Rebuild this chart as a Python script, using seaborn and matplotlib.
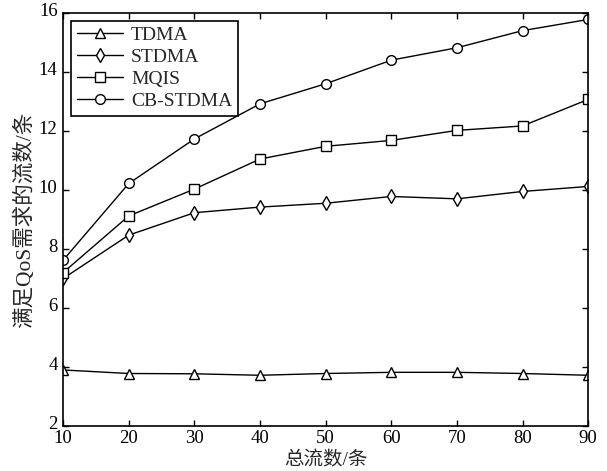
import pandas as pd
import matplotlib
matplotlib.use("Agg")
import matplotlib.pyplot as plt
import matplotlib.transforms as mtransforms
import seaborn as sns

# data
flows = [10, 20, 30, 40, 50, 60, 70, 80, 90]
tdma = [3.9, 3.78, 3.77, 3.72, 3.78, 3.82, 3.82, 3.78, 3.72]
stdma = [7.0, 8.47, 9.23, 9.42, 9.55, 9.78, 9.7, 9.95, 10.12]
mqis = [7.2, 9.12, 10.03, 11.05, 11.48, 11.68, 12.02, 12.17, 13.07]
cb_stdma = [7.62, 10.22, 11.73, 12.92, 13.6, 14.4, 14.82, 15.4, 15.78]

series = {"TDMA": tdma, "STDMA": stdma, "MQIS": mqis, "CB-STDMA": cb_stdma}
markers = {"TDMA": "^", "STDMA": "d", "MQIS": "s", "CB-STDMA": "o"}

df = pd.concat(
    [pd.DataFrame({"flows": flows, "value": v, "method": k}) for k, v in series.items()],
    ignore_index=True,
)

sns.set_style("ticks")
plt.rcParams["font.family"] = ["Liberation Serif", "Noto Sans CJK SC"]
plt.rcParams["xtick.direction"] = "in"
plt.rcParams["ytick.direction"] = "in"

fig = plt.figure(figsize=(6.07, 4.71), dpi=100)
ax = fig.add_axes([0.104, 0.0955, 0.865, 0.877])

sns.lineplot(
    data=df, x="flows", y="value", hue="method", style="method",
    palette={k: "black" for k in series}, markers=markers, dashes=False,
    markersize=7, markerfacecolor="white", markeredgecolor="black",
    markeredgewidth=1.0, linewidth=1.0, ax=ax,
)

ax.set_xlim(10, 90)
ax.set_ylim(2, 16)
ax.set_xticks(flows)
ax.set_yticks(range(2, 17, 2))
ax.tick_params(axis="both", labelsize=13.5, top=True, right=True, length=4, width=1, colors="black")
ax.tick_params(axis="x", pad=3)
ax.tick_params(axis="y", pad=4)
# lift y tick labels slightly so "2" clears "10"
shift = mtransforms.ScaledTranslation(0, 2.5 / 72, fig.dpi_scale_trans)
for lbl in ax.get_yticklabels():
    lbl.set_transform(lbl.get_transform() + shift)
for sp in ax.spines.values():
    sp.set_visible(True)
    sp.set_linewidth(1.2)
    sp.set_color("black")

ax.set_xlabel("总流数/条", fontsize=14, labelpad=3)
ax.set_ylabel("满足QoS需求的流数/条", fontsize=15.5, labelpad=3)

leg = ax.legend(loc="upper left", fontsize=14, frameon=True, fancybox=False,
                edgecolor="black", handlelength=2.4, borderpad=0.3,
                labelspacing=0.22, handletextpad=0.4, borderaxespad=0.4)
leg.get_frame().set_linewidth(1.2)
leg.get_frame().set_alpha(1)

fig.savefig("out.png", dpi=100)
